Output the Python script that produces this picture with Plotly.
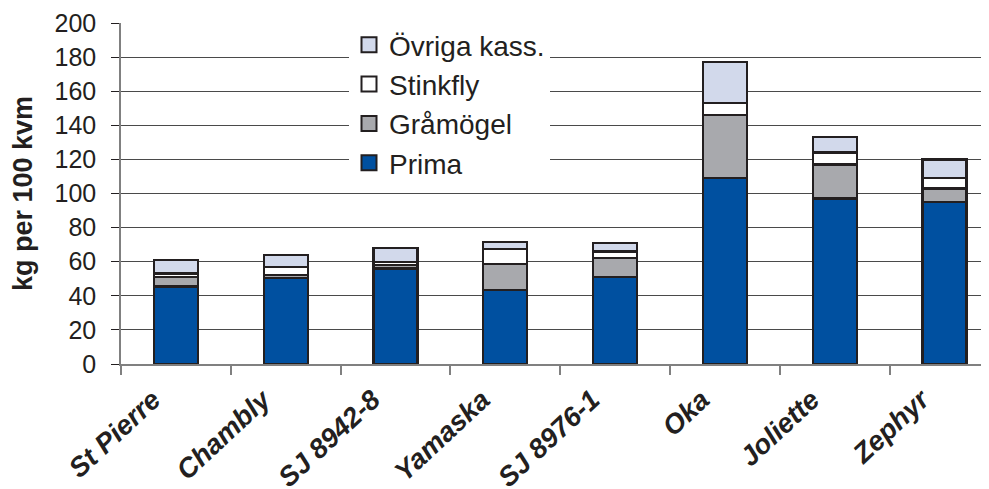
import plotly.graph_objects as go

categories = ["St Pierre", "Chambly", "SJ 8942-8", "Yamaska", "SJ 8976-1", "Oka", "Joliette", "Zephyr"]
prima = [45.5, 50.5, 56, 43.5, 51, 109, 97, 95]
gramogel = [5.5, 1.5, 2, 15, 11, 37, 20, 8]
stinkfly = [2, 5, 2, 9, 4, 7, 7, 6]
ovriga = [8, 7, 8, 4, 5, 24, 9, 11]
y_ticks = [0, 20, 40, 60, 80, 100, 120, 140, 160, 180, 200]

series = [
    ("Prima", prima, "#0050A0", 4),
    ("Gråmögel", gramogel, "#A8A9AD", 3),
    ("Stinkfly", stinkfly, "#FFFFFF", 2),
    ("Övriga kass.", ovriga, "#D2D9EB", 1),
]
OUTLINE = "#231F20"

fig = go.Figure()
for name, vals, col, rank in series:
    fig.add_trace(go.Bar(
        x=categories, y=vals, name=name, showlegend=False,
        marker=dict(color=col, line=dict(color=OUTLINE, width=2.3)),
    ))
# legend entries with larger square symbols
for name, vals, col, rank in series:
    fig.add_trace(go.Scatter(
        x=[None], y=[None], mode="markers", name=name, legendgroup=name, legendrank=rank,
        marker=dict(symbol="square", size=15, color=col, line=dict(color=OUTLINE, width=2)),
        hoverinfo="skip",
    ))

# the page body adds an 8px offset, so the figure is 8px smaller than the window
W, H = 981, 481
ml, mr, mt, mb = 113, 0, 15, 125
PW = W - ml - mr

fig.update_layout(
    width=W, height=H,
    margin=dict(l=ml, r=mr, t=mt, b=mb, pad=0, autoexpand=False),
    barmode="stack", bargap=0.6,
    plot_bgcolor="white", paper_bgcolor="white",
    font=dict(family="Liberation Sans, Arial, sans-serif", color=OUTLINE),
    showlegend=True,
    legend=dict(
        x=(341 - ml) / PW, y=1.009, xanchor="left", yanchor="top",
        bgcolor="white", borderwidth=0,
        font=dict(size=28, color=OUTLINE),
        traceorder="grouped", tracegroupgap=0,
        itemwidth=30,
    ),
    xaxis=dict(
        type="category", categoryorder="array", categoryarray=categories,
        range=[-0.5, -0.5 + PW / 109.8],
        automargin=False,
        showline=True, linecolor="#808080", linewidth=1.5,
        ticks="outside", tickson="boundaries", ticklen=9, tickcolor="#808080", tickwidth=1.5,
        tickangle=-43, ticklabelshift=-23, ticklabelstandoff=7,
        tickfont=dict(size=27.5, weight="bold", style="italic", color=OUTLINE),
        showgrid=False,
    ),
    yaxis=dict(
        range=[0, 200], tickvals=y_ticks,
        automargin=False,
        showline=True, linecolor="#808080", linewidth=1.5,
        ticks="outside", ticklen=8, tickcolor=OUTLINE, tickwidth=1,
        ticklabelstandoff=10,
        tickfont=dict(size=25, color=OUTLINE),
        showgrid=True, gridcolor="#4A4A4A", gridwidth=1,
        zeroline=False,
        title=dict(text="kg per 100 kvm", font=dict(size=27, weight="bold", color=OUTLINE), standoff=18),
    ),
)

fig.write_html("out.html")
